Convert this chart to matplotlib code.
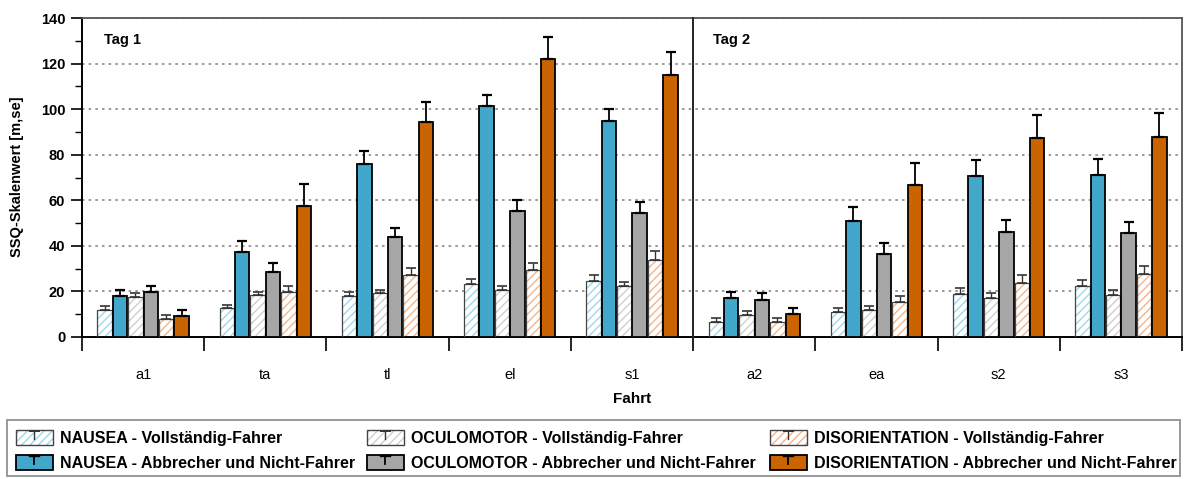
import numpy as np
import matplotlib.pyplot as plt
from matplotlib.patches import Rectangle
from matplotlib.lines import Line2D

plt.rcParams['font.family'] = ['Liberation Sans', 'DejaVu Sans']
plt.rcParams['hatch.linewidth'] = 1.0

fahrten = ['a1', 'ta', 'tl', 'el', 's1', 'a2', 'ea', 's2', 's3']

# means and standard errors
nausea_vf = [12.0, 12.8, 17.9, 23.2, 24.6, 6.8, 11.0, 18.9, 22.4]
nausea_vf_se = [1.5, 1.4, 1.8, 2.3, 2.8, 1.6, 1.9, 2.5, 2.5]
nausea_an = [18.0, 37.1, 75.9, 101.4, 94.9, 17.0, 50.7, 70.8, 71.0]
nausea_an_se = [2.8, 5.1, 5.8, 4.9, 5.2, 2.8, 6.2, 6.9, 7.0]
ocul_vf = [17.6, 18.3, 19.1, 20.8, 22.4, 9.7, 11.9, 16.9, 18.6]
ocul_vf_se = [1.5, 1.5, 1.6, 1.8, 1.8, 1.5, 1.6, 2.2, 2.2]
ocul_an = [19.8, 28.6, 44.0, 55.4, 54.5, 16.3, 36.4, 46.2, 45.5]
ocul_an_se = [2.6, 3.9, 3.8, 4.7, 4.9, 2.8, 4.7, 5.1, 5.1]
dis_vf = [8.1, 19.7, 27.1, 29.2, 33.7, 6.5, 15.3, 23.9, 27.6]
dis_vf_se = [1.4, 2.7, 3.0, 3.3, 4.1, 1.9, 2.7, 3.2, 3.5]
dis_an = [9.1, 57.5, 94.5, 122.0, 115.2, 10.0, 66.7, 87.2, 87.8]
dis_an_se = [2.6, 9.5, 8.7, 9.8, 9.9, 2.9, 9.6, 10.3, 10.4]

labels = ['NAUSEA - Vollständig-Fahrer',
          'NAUSEA - Abbrecher und Nicht-Fahrer',
          'OCULOMOTOR - Vollständig-Fahrer',
          'OCULOMOTOR - Abbrecher und Nicht-Fahrer',
          'DISORIENTATION - Vollständig-Fahrer',
          'DISORIENTATION - Abbrecher und Nicht-Fahrer']

series = [
    (nausea_vf, nausea_vf_se, True, '#9fd6ec'),
    (nausea_an, nausea_an_se, False, '#42a8cb'),
    (ocul_vf, ocul_vf_se, True, '#cfcfcf'),
    (ocul_an, ocul_an_se, False, '#a6a6a6'),
    (dis_vf, dis_vf_se, True, '#f3b48a'),
    (dis_an, dis_an_se, False, '#c96400'),
]


class SeriesKey:
    def __init__(self, color, hatched):
        self.color = color
        self.hatched = hatched


class BarHandler:
    # box with the little error-bar "T" at its top, like the original legend
    def legend_artist(self, legend, orig_handle, fontsize, handlebox):
        x0, y0 = -handlebox.xdescent, -handlebox.ydescent
        w, h = handlebox.width, handlebox.height
        tr = handlebox.get_transform()
        if orig_handle.hatched:
            back = Rectangle((x0, y0), w, h, facecolor='white',
                             edgecolor=orig_handle.color, hatch='////',
                             linewidth=0, transform=tr)
            handlebox.add_artist(back)
            edge = Rectangle((x0, y0), w, h, fill=False, edgecolor='#444444',
                             linewidth=1.0, transform=tr)
            lc, lw = '#333333', 1.0
        else:
            edge = Rectangle((x0, y0), w, h, facecolor=orig_handle.color,
                             edgecolor='black', linewidth=1.3, transform=tr)
            lc, lw = 'black', 1.3
        handlebox.add_artist(edge)
        cx = x0 + w / 2
        top = y0 + h * 0.92
        handlebox.add_artist(Line2D([cx, cx], [y0 + h * 0.4, top],
                                    color=lc, linewidth=lw, transform=tr))
        handlebox.add_artist(Line2D([cx - 3, cx + 3], [top, top],
                                    color=lc, linewidth=lw + 0.4, transform=tr))
        return edge


fig = plt.figure(figsize=(11.86, 4.79), dpi=100)
ax = fig.add_axes([82 / 1186, 1 - 337 / 479, 1100 / 1186, 319 / 479])

x = np.arange(len(fahrten)) + 0.5
step = 0.126
w = 0.118
keys = []
for k, (vals, se, hatched, col) in enumerate(series):
    xs = x + (k - 2.5) * step
    vals = np.array(vals)
    se = np.array(se)
    if hatched:
        ax.bar(xs, vals, w, color='white', edgecolor=col, hatch='////',
               linewidth=0, zorder=2)
        ax.bar(xs, vals, w, fill=False, edgecolor='#444444', linewidth=0.9,
               zorder=3)
        ax.errorbar(xs, vals, yerr=[np.zeros_like(se), se], fmt='none',
                    ecolor='#333333', elinewidth=1.0, capsize=3.5, capthick=1.2,
                    zorder=3)
    else:
        ax.bar(xs, vals, w, color=col, edgecolor='black', linewidth=1.3,
               zorder=3)
        ax.errorbar(xs, vals, yerr=[np.zeros_like(se), se], fmt='none',
                    ecolor='black', elinewidth=1.3, capsize=3.5, capthick=1.6,
                    zorder=3)
    keys.append(SeriesKey(col, hatched))

ax.set_xlim(0, len(fahrten))
ax.set_ylim(0, 140)
ax.set_yticks(np.arange(0, 141, 20))
ax.set_yticks(np.arange(10, 140, 20), minor=True)
for lbl in ax.get_yticklabels():
    lbl.set_fontweight('bold')
    lbl.set_fontsize(10.5)
ax.tick_params(axis='y', which='major', direction='out', length=8, width=1.2,
               pad=4)
ax.tick_params(axis='y', which='minor', direction='out', length=5, width=1.0)

ax.set_xticks(np.arange(0, len(fahrten) + 1))
ax.set_xticklabels([])
ax.set_xticks(x, minor=True)
ax.set_xticklabels(fahrten, minor=True, fontsize=10.5)
ax.tick_params(axis='x', which='major', direction='out', length=10, width=1.2)
ax.tick_params(axis='x', which='minor', length=0, pad=22)

ax.yaxis.grid(True, linestyle=(0, (1.5, 2.5)), color='#888888', linewidth=1.2)
ax.set_axisbelow(True)

for side in ['left', 'bottom']:
    ax.spines[side].set_linewidth(1.4)
    ax.spines[side].set_color('black')
for side in ['top', 'right']:
    ax.spines[side].set_linewidth(1.3)
    ax.spines[side].set_color('#555555')

ax.axvline(5, color='#222222', linewidth=1.4, ymin=-0.03, clip_on=False,
           zorder=4)

ax.text(0.18, 130.5, 'Tag 1', fontsize=10.5, fontweight='bold', va='center')
ax.text(5.16, 130.5, 'Tag 2', fontsize=10.5, fontweight='bold', va='center')

fig.text(632 / 1186, 1 - 399 / 479, 'Fahrt', fontsize=11, fontweight='bold',
         ha='center', va='center')
fig.text(17 / 1186, 1 - 177 / 479, 'SSQ-Skalenwert [m,se]', fontsize=10.5,
         fontweight='bold', rotation=90, ha='center', va='center')

fig.patches.append(Rectangle((7 / 1186, 1 - 476 / 479), 1173 / 1186, 56 / 479,
                             transform=fig.transFigure, fill=False,
                             edgecolor='#999999', linewidth=1.4))

# one legend per column so the columns sit where they do in the original
col_x = [16, 367, 770]
for c in range(3):
    fig.legend(keys[2 * c:2 * c + 2], labels[2 * c:2 * c + 2],
               handler_map={SeriesKey: BarHandler()},
               loc='upper left', bbox_to_anchor=(col_x[c] / 1186, 1 - 430 / 479),
               frameon=False, prop={'weight': 'bold', 'size': 11.5},
               handlelength=2.3, handleheight=1.1, handletextpad=0.45,
               labelspacing=0.55, borderpad=0, borderaxespad=0)

fig.savefig('out.png', dpi=100)
